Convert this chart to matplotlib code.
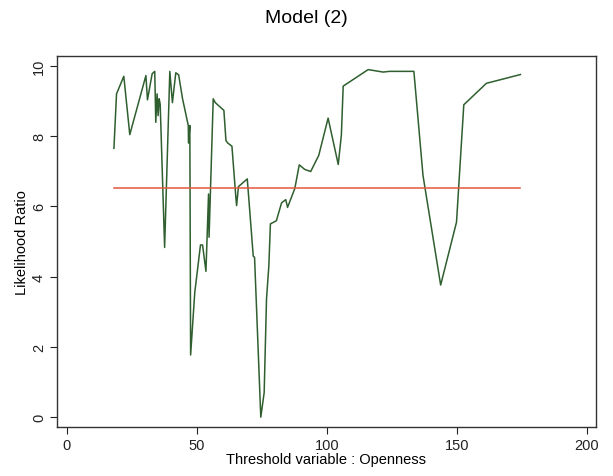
"""Likelihood ratio sequence against the threshold variable (Model 2)."""

import matplotlib

matplotlib.use("Agg")
import matplotlib.pyplot as plt

# threshold values (Openness) and likelihood ratio
threshold = [
    18.1, 19.1, 21.9, 24.2, 30.4, 31.0, 32.8, 33.2, 33.8, 34.2, 34.7, 35.1,
    35.5, 35.9, 37.6, 39.6, 40.6, 41.9, 43.0, 44.5, 46.7, 46.8, 47.3, 47.6,
    49.2, 51.4, 52.2, 53.5, 54.5, 54.7, 56.3, 57.1, 60.4, 61.2, 61.9, 63.5,
    65.0, 65.3, 66.0, 69.4, 71.7, 72.2, 74.6, 75.9, 76.8, 77.7, 78.3, 80.6,
    82.6, 84.2, 84.9, 87.7, 89.4, 91.5, 93.8, 96.9, 100.5, 104.4, 105.6,
    106.3, 115.9, 121.7, 124.0, 133.5, 137.0, 143.8, 149.9, 152.7, 161.4,
    174.5,
]
likelihood_ratio = [
    7.65, 9.20, 9.70, 8.04, 9.72, 9.03, 9.77, 9.80, 9.84, 8.39, 9.20, 8.58,
    9.06, 8.90, 4.83, 9.84, 8.95, 9.80, 9.74, 9.06, 8.30, 7.80, 8.30, 1.77,
    3.55, 4.90, 4.90, 4.15, 6.35, 5.12, 9.06, 8.95, 8.73, 7.87, 7.80, 7.71,
    6.26, 6.02, 6.56, 6.78, 4.58, 4.55, 0.00, 0.70, 3.36, 4.31, 5.50, 5.59,
    6.10, 6.19, 5.97, 6.51, 7.18, 7.05, 6.99, 7.45, 8.51, 7.19, 8.03, 9.42,
    9.89, 9.82, 9.84, 9.84, 6.88, 3.76, 5.55, 8.89, 9.50, 9.75,
]
critical_value = 6.53

x_ticks = [0, 50, 100, 150, 200]
y_ticks = [0, 2, 4, 6, 8, 10]

plt.rcParams["font.family"] = ["Liberation Sans", "DejaVu Sans"]


def main() -> None:
    fig = plt.figure(figsize=(6.13, 4.77), dpi=100)
    ax = fig.add_axes([0.093, 0.1027, 0.879, 0.778])

    ax.plot(threshold, likelihood_ratio, color="#2f5f2f", linewidth=1.1)
    ax.plot([min(threshold), max(threshold)], [critical_value, critical_value],
            color="#e5573a", linewidth=1.1)

    ax.set_xlim(-3.8, 203.5)
    ax.set_ylim(-0.28, 10.28)
    ax.set_xticks(x_ticks)
    ax.set_yticks(y_ticks)
    ax.tick_params(direction="out", length=5, width=0.8, labelsize=10.5,
                   colors="#222222", pad=3)
    for label in ax.get_yticklabels():
        label.set_rotation(90)
        label.set_va("center")
    for spine in ax.spines.values():
        spine.set_color("#333333")
        spine.set_linewidth(1.0)

    ax.set_xlabel("Threshold variable : Openness", fontsize=10.5, labelpad=0)
    ax.set_ylabel("Likelihood Ratio", fontsize=10.5, labelpad=2)
    fig.suptitle("Model (2)", fontsize=14, y=0.978)

    fig.savefig("out.png", dpi=100)
    plt.close(fig)


if __name__ == "__main__":
    main()
